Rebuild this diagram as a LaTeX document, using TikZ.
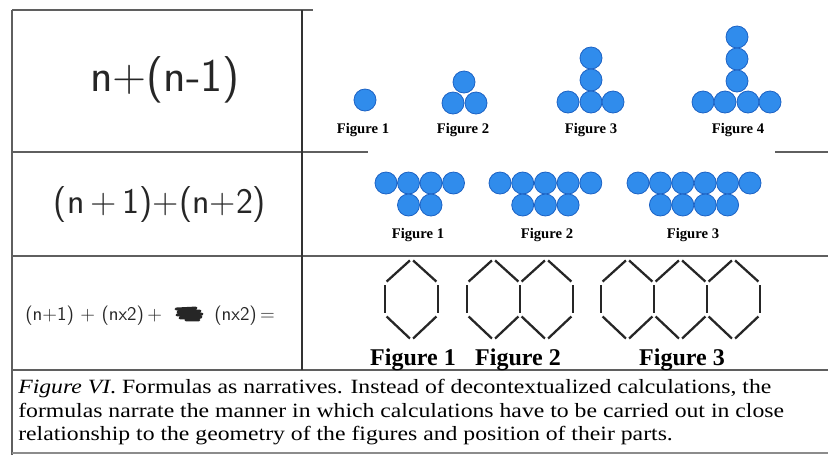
\documentclass[tikz,border=0pt]{standalone}
\usepackage{graphicx}
\usepackage{fontspec}
\setmainfont{Liberation Serif}
\definecolor{ballblue}{RGB}{48,140,236}
\definecolor{balledge}{RGB}{28,98,196}
\definecolor{rulegray}{RGB}{95,95,95}
\newcommand\capline[1]{\scalebox{1.17}[1]{\fontsize{15.2}{17}\selectfont #1}}
\begin{document}
\begin{tikzpicture}[x=0.75pt,y=-0.75pt,
  ball/.style={fill=ballblue,draw=balledge,line width=0.6pt},
  lbl/.style={font=\bfseries\fontsize{11}{13}\selectfont,anchor=base,inner sep=0pt},
  biglbl/.style={font=\bfseries\fontsize{18}{20}\selectfont,anchor=base,inner sep=0pt},
  stick/.style={line width=1.7pt,shorten <=1.6pt,shorten >=1.6pt,black!85},
  tablerule/.style={draw=rulegray,line width=1.3pt},
  divider/.style={draw=black!80,line width=0.8pt},
  hand/.style={font=\sffamily,text=black!85,inner sep=0pt},
  captxt/.style={anchor=base west,inner sep=0pt}]
\useasboundingbox (0,0) rectangle (828,455);
\fill[white] (0,0) rectangle (828,455);
% table rules
\coordinate (tl) at (12,10);
\coordinate (tr) at (313,10);
\coordinate (bl) at (12,455);
\draw[tablerule] (tl) -- (tr);
\draw[tablerule] (bl) -- (tl);
\coordinate (r1a) at (12,152); \coordinate (r1b) at (368,152);
\coordinate (r1c) at (775,152); \coordinate (r1d) at (828,152);
\draw[tablerule] (r1a) -- (r1b);
\draw[tablerule] (r1c) -- (r1d);
\coordinate (r2a) at (12,256); \coordinate (r2b) at (828,256);
\draw[tablerule] (r2a) -- (r2b);
\coordinate (r3a) at (12,370); \coordinate (r3b) at (828,370);
\draw[tablerule] (r3a) -- (r3b);
\coordinate (r4a) at (12,453); \coordinate (r4b) at (828,453);
\draw[draw=black!45,line width=0.9pt] (r4a) -- (r4b);
\coordinate (dt) at (302,10); \coordinate (db) at (302,370);
\draw[divider] (dt) -- (db);
% handwritten formulas
\node[hand,font=\sffamily\fontsize{35}{40}\selectfont] (f1) at (165,80) {n+(n-1)};
\node[hand,font=\sffamily\fontsize{27}{32}\selectfont] (f2) at (160,205) {(n\,+\,1)+(n+2)};
\node[hand,font=\sffamily\fontsize{14.5}{16}\selectfont,anchor=west] (f3a) at (25,316) {(n+1)\,\,+\,\,(nx2)\,+};
\node[hand,font=\sffamily\fontsize{14.5}{16}\selectfont,anchor=west] (f3b) at (214,316) {(nx2)\,=};
% scribble
\draw[black!85,line width=2.2pt,line cap=round,line join=round]
  (176,309) -- (196,308) -- (178,312) -- (200,311) -- (177,315) -- (202,314) -- (180,318) -- (201,317) -- (186,320) -- (199,320);
% row 1 figures
\draw[ball] (365,100) circle (11);
\foreach \p in {(464,82),(453,103),(476,103)} \draw[ball] \p circle (11);
\foreach \p in {(591,58),(591,80),(568,102),(591,102),(613,102)} \draw[ball] \p circle (11);
\foreach \p in {(737,37),(737,59),(737,81),(703,102),(725,102),(748,102),(770,102)} \draw[ball] \p circle (11);
\node[lbl] (a1) at (363,133) {Figure 1};
\node[lbl] (a2) at (463,133) {Figure 2};
\node[lbl] (a3) at (591,133) {Figure 3};
\node[lbl] (a4) at (738,133) {Figure 4};
% row 2 figures
\foreach \x in {386,408.5,431,453.5} \draw[ball] (\x,183) circle (11);
\foreach \x in {408.5,431} \draw[ball] (\x,205) circle (11);
\foreach \x in {500,522.7,545.4,568.1,590.8} \draw[ball] (\x,183) circle (11);
\foreach \x in {522.7,545.4,568.1} \draw[ball] (\x,205) circle (11);
\foreach \x in {638,660.4,682.8,705.2,727.6,750} \draw[ball] (\x,183) circle (11);
\foreach \x in {660.4,682.8,705.2,727.6} \draw[ball] (\x,205) circle (11);
\node[lbl] (b1) at (418,238) {Figure 1};
\node[lbl] (b2) at (547,238) {Figure 2};
\node[lbl] (b3) at (693,238) {Figure 3};
% row 3 hexagons (matchsticks)
\foreach \L in {385,467,520,601,654,707}{
  \draw[stick] (\L+26.5,259) -- (\L,283);
  \draw[stick] (\L+26.5,259) -- (\L+53,283);
  \draw[stick] (\L,283) -- (\L,315);
  \draw[stick] (\L+53,283) -- (\L+53,315);
  \draw[stick] (\L,315) -- (\L+26.5,340);
  \draw[stick] (\L+53,315) -- (\L+26.5,340);
}
\node[biglbl] (c1) at (413,365) {Figure 1};
\node[biglbl] (c2) at (518,365) {Figure 2};
\node[biglbl] (c3) at (682,365) {Figure 3};
% caption
\node[captxt] (cap1) at (18,393) {\capline{\textit{Figure VI}. Formulas as narratives. Instead of decontextualized calculations, the}};
\node[captxt] (cap2) at (18,417) {\capline{formulas narrate the manner in which calculations have to be carried out in close}};
\node[captxt] (cap3) at (18,440) {\capline{relationship to the geometry of the figures and position of their parts.}};
\end{tikzpicture}
\end{document}
